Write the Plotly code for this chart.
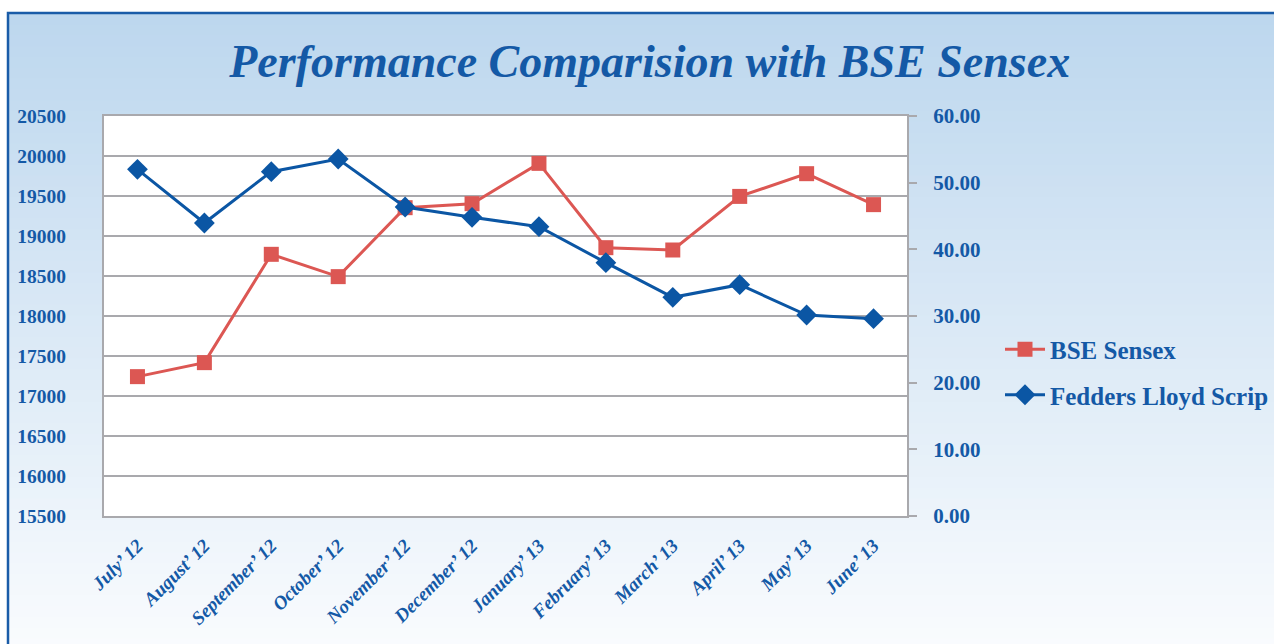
import plotly.graph_objects as go

months = ["July’ 12", "August’ 12", "September’ 12", "October’ 12", "November’ 12",
          "December’ 12", "January’ 13", "February’ 13", "March’ 13", "April’ 13",
          "May’ 13", "June’ 13"]
bse_sensex = [17242, 17417, 18771, 18492, 19354, 19404, 19908, 18854, 18825, 19495, 19779, 19392]
fedders_lloyd = [52.0, 43.95, 51.65, 53.55, 46.35, 44.8, 43.4, 38.0, 32.8, 34.7, 30.15, 29.6]
left_ticks = [15500, 16000, 16500, 17000, 17500, 18000, 18500, 19000, 19500, 20000, 20500]
right_ticks = [0, 10, 20, 30, 40, 50, 60]

BLUE = "#0b56a4"
RED = "#dc5753"
TXT = "#1459a6"
GRID = "#a9a9ad"
FONT = "Liberation Serif"

W, H = 1274, 644
L, R, T, B = 104, 367, 116, 128
pw, ph = W - L - R, H - T - B

def px_x(px):
    return (px - L) / pw

def px_y(py):
    return (H - B - py) / ph

fig = go.Figure()
fig.add_trace(go.Scatter(
    x=months, y=bse_sensex, name="BSE Sensex", mode="lines+markers",
    line=dict(color=RED, width=3), marker=dict(symbol="square", size=15, color=RED),
    yaxis="y", legendgroup="a"))
fig.add_trace(go.Scatter(
    x=months, y=fedders_lloyd, name="Fedders Lloyd Scrip", mode="lines+markers",
    line=dict(color=BLUE, width=3), marker=dict(symbol="diamond", size=16, color=BLUE),
    yaxis="y2", legendgroup="b"))

# background gradient bands
shapes = []
top_c = (189, 215, 238)
bot_c = (250, 252, 254)
y_top, y_bot = 14, 660
n = 60
for i in range(n):
    f = i / (n - 1)
    c = tuple(int(round(top_c[k] + (bot_c[k] - top_c[k]) * f)) for k in range(3))
    ya = y_top + (y_bot - y_top) * i / n
    yb = y_top + (y_bot - y_top) * (i + 1) / n + 1
    shapes.append(dict(type="rect", xref="paper", yref="paper",
                       x0=px_x(8), x1=px_x(1300), y0=px_y(yb), y1=px_y(ya),
                       fillcolor="rgb(%d,%d,%d)" % c, line=dict(width=0), layer="below"))
# white plot area
shapes.append(dict(type="rect", xref="paper", yref="paper", x0=0, x1=1, y0=0, y1=1,
                   fillcolor="white", line=dict(width=0), layer="below"))
# outer frame
shapes.append(dict(type="rect", xref="paper", yref="paper",
                   x0=px_x(8), x1=px_x(1300), y0=px_y(700), y1=px_y(13),
                   fillcolor="rgba(0,0,0,0)", line=dict(color="#1a5ca8", width=2.5), layer="below"))

fig.update_layout(
    width=W, height=H,
    margin=dict(l=L, r=R, t=T, b=B, autoexpand=False),
    paper_bgcolor="white", plot_bgcolor="white",
    shapes=shapes,
    title=dict(text="<b><i>Performance Comparision with BSE Sensex</i></b>",
               x=0.51, xanchor="center", y=1 - 61 / H, yanchor="middle",
               font=dict(family=FONT, size=46, color=TXT)),
    xaxis=dict(type="category", showgrid=False, showline=True, linecolor=GRID, linewidth=2,
               mirror=True, tickangle=-45, ticks="outside", ticklen=9, tickcolor="rgba(0,0,0,0)",
               tickfont=dict(family=FONT, size=19, color=TXT),
               tickvals=months, ticktext=["<b><i>%s</i></b>" % m for m in months],
               range=[-0.5, len(months) - 0.5]),
    yaxis=dict(range=[15500, 20500], tickvals=left_ticks, tickformat="d",
               showgrid=True, gridcolor=GRID,
               gridwidth=2, showline=True, linecolor=GRID, linewidth=2, mirror=True,
               ticks="", ticklabelstandoff=32, zeroline=False,
               tickfont=dict(family=FONT, size=19.5, color=TXT, weight="bold")),
    yaxis2=dict(range=[0, 60], tickvals=right_ticks, overlaying="y", side="right",
                showgrid=False, showline=True, linecolor=GRID, linewidth=2,
                ticks="outside", ticklen=8, tickwidth=2, tickcolor=GRID,
                tickformat=".2f", ticklabelstandoff=12, zeroline=False,
                tickfont=dict(family=FONT, size=21, color=TXT, weight="bold")),
    legend=dict(x=px_x(1000), xanchor="left", y=px_y(372), yanchor="middle",
                bgcolor="rgba(0,0,0,0)", tracegroupgap=10, itemwidth=40,
                font=dict(family=FONT, size=25, color=TXT, weight="bold")),
    showlegend=True,
)

fig.write_html("out.html", config={"displayModeBar": False},
               post_script="document.body.style.margin='0';document.body.style.overflow='hidden';")
